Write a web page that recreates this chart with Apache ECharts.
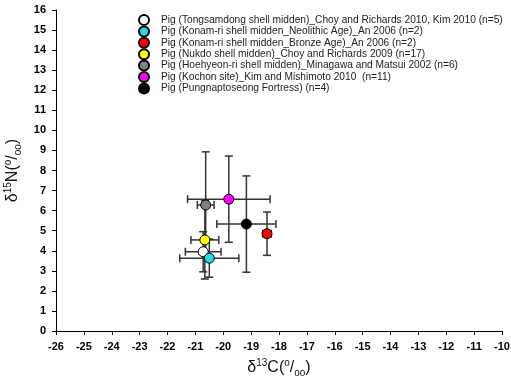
<!DOCTYPE html>
<html><head><meta charset="utf-8">
<script src="https://cdn.jsdelivr.net/npm/echarts@6/dist/echarts.min.js"></script>
<style>html,body{margin:0;padding:0;background:#fff}#c{width:511px;height:384px}</style>
</head><body><div id="c"></div>
<script>
const groupNames = [
  'Pig (Tongsamdong shell midden)_Choy and Richards 2010, Kim 2010 (n=5)',
  'Pig (Konam-ri shell midden_Neolithic Age)_An 2006 (n=2)',
  'Pig (Konam-ri shell midden_Bronze Age)_An 2006 (n=2)',
  'Pig (Nukdo shell midden)_Choy and Richards 2009 (n=17)',
  'Pig (Hoehyeon-ri shell midden)_Minagawa and Matsui 2002 (n=6)',
  'Pig (Kochon site)_Kim and Mishimoto 2010  (n=11)',
  'Pig (Pungnaptoseong Fortress) (n=4)'
];
const groupColors = ['#ffffff', '#22d8e2', '#ff0000', '#ffff00', '#808080', '#ff00ff', '#000000'];
const d13C = [-20.72, -20.50, -18.43, -20.66, -20.63, -19.80, -19.17];
const d15N = [3.95, 3.63, 4.85, 4.54, 6.28, 6.57, 5.33];
const sdC  = [0.64, 1.06, 0.15, 0.50, 0.30, 1.48, 1.06];
const sdN  = [1.00, 0.95, 1.08, 1.95, 2.65, 2.15, 2.40];
const xTicks = [-26,-25,-24,-23,-22,-21,-20,-19,-18,-17,-16,-15,-14,-13,-12,-11,-10];
const yTicks = [0,1,2,3,4,5,6,7,8,9,10,11,12,13,14,15,16];

const chart = echarts.init(document.getElementById('c'), null, {renderer:'canvas'});
const FONT = 'Liberation Sans, Arial, sans-serif';
const barColor = '#333333';
const cap = 4;

const errData = d13C.map((x, i) => [x, d15N[i], sdC[i], sdN[i]]);

const series = [{
  type: 'custom',
  name: 'errbars',
  z: 1,
  silent: true,
  data: errData,
  renderItem: function (params, api) {
    const x = api.value(0), y = api.value(1), ex = api.value(2), ey = api.value(3);
    const l = api.coord([x - ex, y]), r = api.coord([x + ex, y]);
    const t = api.coord([x, y + ey]), b = api.coord([x, y - ey]);
    const st = {stroke: barColor, lineWidth: 1.5};
    const ln = (x1, y1, x2, y2) => ({type: 'line', shape: {x1, y1, x2, y2}, style: st});
    return {type: 'group', children: [
      ln(l[0], l[1], r[0], r[1]),
      ln(l[0], l[1] - cap, l[0], l[1] + cap),
      ln(r[0], r[1] - cap, r[0], r[1] + cap),
      ln(t[0], t[1], b[0], b[1]),
      ln(t[0] - cap, t[1], t[0] + cap, t[1]),
      ln(b[0] - cap, b[1], b[0] + cap, b[1])
    ]};
  }
}];
groupNames.forEach((n, i) => {
  series.push({
    type: 'scatter',
    name: n,
    z: 5,
    symbol: 'circle',
    symbolSize: 10,
    itemStyle: {color: groupColors[i], borderColor: '#000', borderWidth: 1, opacity: 1},
    data: [[d13C[i], d15N[i]]]
  });
});

const nameRich = {
  b: {fontSize: 16, fontFamily: FONT, color: '#111', lineHeight: 20},
  sup: {fontSize: 10, fontFamily: FONT, color: '#111', verticalAlign: 'top', lineHeight: 20, padding: [0,0,8,0]},
  sub: {fontSize: 10, fontFamily: FONT, color: '#111', verticalAlign: 'bottom', lineHeight: 20, padding: [6,0,0,0]}
};

chart.setOption({
  animation: false,
  backgroundColor: '#fff',
  grid: {left: 56, right: 9, top: 10, bottom: 53, containLabel: false, outerBoundsMode: 'none'},
  legend: {
    data: groupNames,
    orient: 'vertical',
    left: 133,
    top: 9,
    padding: 5,
    itemWidth: 10,
    itemHeight: 10,
    itemGap: -0.6,
    icon: 'circle',
    selectedMode: false,
    textStyle: {fontSize: 10.2, fontFamily: FONT, color: '#222', padding: [0, 0, 0, 7]}
  },
  xAxis: {
    type: 'value',
    min: xTicks[0], max: xTicks[xTicks.length - 1], interval: 1,
    name: '{b|δ}{sup|13}{b|C(}{sup|o}{b|/}{sub|oo}{b|)}',
    nameLocation: 'middle',
    nameGap: 27,
    nameTextStyle: {rich: nameRich},
    axisLine: {show: true, onZero: false, lineStyle: {color: '#000', width: 1}},
    axisTick: {show: true, length: 4, lineStyle: {color: '#000'}},
    axisLabel: {margin: 10, fontSize: 11, fontWeight: 'bold', fontFamily: FONT, color: '#000',
      formatter: v => xTicks.includes(v) ? String(v) : ''},
    splitLine: {show: false}
  },
  yAxis: {
    type: 'value',
    min: yTicks[0], max: yTicks[yTicks.length - 1], interval: 1,
    name: '{b|δ}{sup|15}{b|N(}{sup|o}{b|/}{sub|oo}{b|)}',
    nameLocation: 'middle',
    nameGap: 33,
    nameRotate: 90,
    nameTextStyle: {rich: nameRich},
    axisLine: {show: true, onZero: false, lineStyle: {color: '#000', width: 1}},
    axisTick: {show: true, length: 4, lineStyle: {color: '#000'}},
    axisLabel: {margin: 10, fontSize: 11, fontWeight: 'bold', fontFamily: FONT, color: '#000',
      formatter: v => yTicks.includes(v) ? String(v) : ''},
    splitLine: {show: false}
  },
  series: series
});
</script>
</body></html>
